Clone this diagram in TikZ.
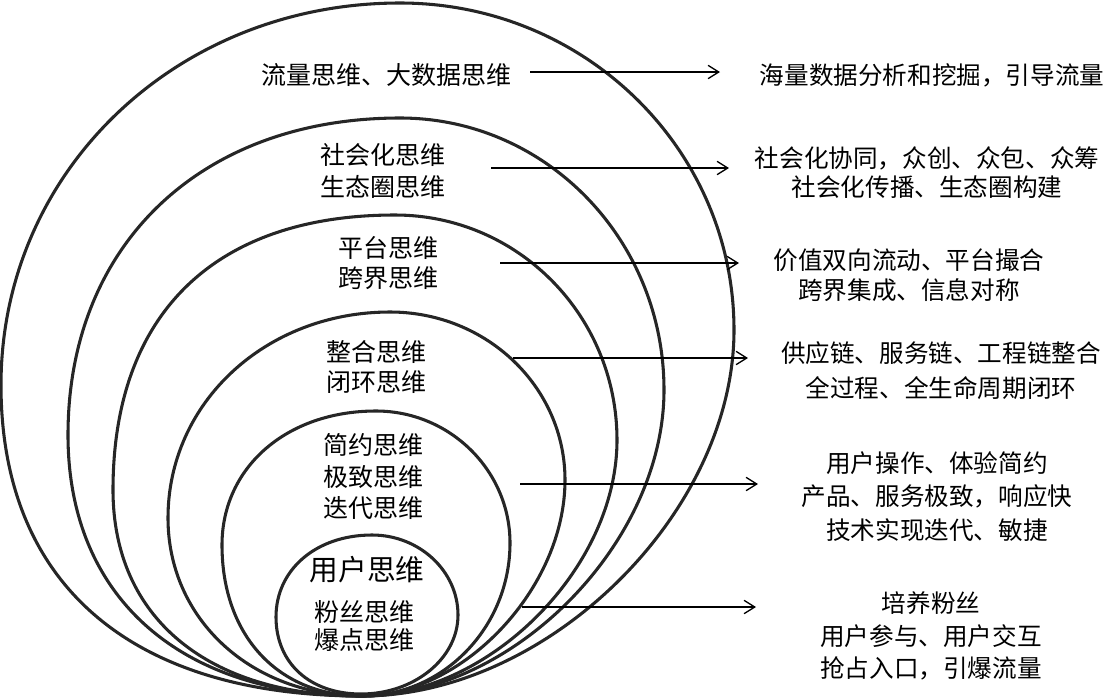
\documentclass[tikz,border=0pt]{standalone}
\usepackage{fontspec}
\newfontfamily\cjk{Noto Sans CJK SC}
\usetikzlibrary{arrows.meta}
\def\kll{0.6}\def\kul{0.6}\def\kur{0.55}\def\klr{0.5}
\newcommand\drawegg[8]{%
 \draw[eggline] (#1,#2)
  .. controls ({#1-\kll*(#1-#3)},#2) and (#3,{#4+\kll*(#2-#4)}) .. (#3,#4)
  .. controls (#3,{#4-\kul*(#4-#6)}) and ({#5-\kul*(#5-#3)},#6) .. (#5,#6)
  .. controls ({#5+\kur*(#7-#5)},#6) and (#7,{#8-\kur*(#8-#6)}) .. (#7,#8)
  .. controls (#7,{#8+\klr*(#2-#8)}) and ({#1+\klr*(#7-#1)},#2) .. cycle;}
\begin{document}
\begin{tikzpicture}[x=0.75pt,y=-0.75pt,
  eggline/.style={line width=2.3pt, draw=black!85},
  arr/.style={line width=1pt, -{Straight Barb[length=8pt,width=10pt,line width=1pt]}},
  lbl/.style={font=\cjk\fontsize{18.75pt}{#1}\selectfont, inner sep=0pt, align=center},
  rlbl/.style={font=\cjk\fontsize{18.45pt}{#1}\selectfont, inner sep=0pt, align=center}]
\useasboundingbox (0,0) rectangle (1108,697);
% nested egg shapes, all meeting at the bottom
\def\kll{0.64}\def\kul{0.56}\def\kur{0.553}\def\klr{0.5}
\drawegg{362}{696}{1}{385}{400}{3}{734}{330}
\def\kll{0.62}\def\kul{0.6}\def\kur{0.553}\def\klr{0.5}
\drawegg{362}{696}{68}{435}{400}{118}{664}{390}
\def\kul{0.64}
\drawegg{362}{696}{113}{490}{395}{215}{617}{440}
\def\kll{0.57}\def\kul{0.56}
\drawegg{362}{696}{168}{518}{390}{312}{565}{480}
\def\kll{0.6}\def\kul{0.58}\def\kur{0.55}\def\klr{0.55}
\drawegg{362}{696}{222}{545}{376}{411}{510}{543}
\drawegg{361}{694}{276}{617}{372}{535}{458}{615}
% left labels
\node[lbl=24pt] (l1) at (386,75) {流量思维、大数据思维};
\node[lbl=24pt] (l2) at (383,171) {社会化思维\\生态圈思维};
\node[lbl=22.5pt] (l3) at (388,263) {平台思维\\跨界思维};
\node[lbl=22.5pt] (l4) at (376,367) {整合思维\\闭环思维};
\node[lbl=23.6pt] (l5) at (373,476.5) {简约思维\\极致思维\\迭代思维};
\node[font=\cjk\fontsize{21.5pt}{24pt}\selectfont, inner sep=0pt] (l6a) at (367,570) {用户思维};
\node[lbl=21pt] (l6b) at (364,626) {粉丝思维\\爆点思维};
% right labels
\node[rlbl=22pt] (r1) at (932,75) {海量数据分析和挖掘，引导流量};
\node[rlbl=21.75pt] (r2) at (927,172.5) {社会化协同，众创、众包、众筹\\社会化传播、生态圈构建};
\node[rlbl=22.5pt] (r3) at (909,275) {价值双向流动、平台撮合\\跨界集成、信息对称};
\node[rlbl=26.25pt] (r4) at (941,370.5) {供应链、服务链、工程链整合\\全过程、全生命周期闭环};
\node[rlbl=25.1pt] (r5) at (937,496.5) {用户操作、体验简约\\产品、服务极致，响应快\\技术实现迭代、敏捷};
\node[rlbl=24.4pt] (r6) at (931,636) {培养粉丝\\用户参与、用户交互\\抢占入口，引爆流量};
% arrows
\coordinate (a1s) at (530,72);  \coordinate (a1e) at (720,72);
\coordinate (a2s) at (491,168); \coordinate (a2e) at (729,168);
\coordinate (a3s) at (500,263); \coordinate (a3e) at (739,263);
\coordinate (a4s) at (513,358); \coordinate (a4e) at (748,358);
\coordinate (a5s) at (520,484); \coordinate (a5e) at (758,484);
\coordinate (a6s) at (522,607); \coordinate (a6e) at (756,607);
\draw[arr] (a1s) -- (a1e);
\draw[arr] (a2s) -- (a2e);
\draw[arr] (a3s) -- (a3e);
\draw[arr] (a4s) -- (a4e);
\draw[arr] (a5s) -- (a5e);
\draw[arr] (a6s) -- (a6e);
\end{tikzpicture}
\end{document}
